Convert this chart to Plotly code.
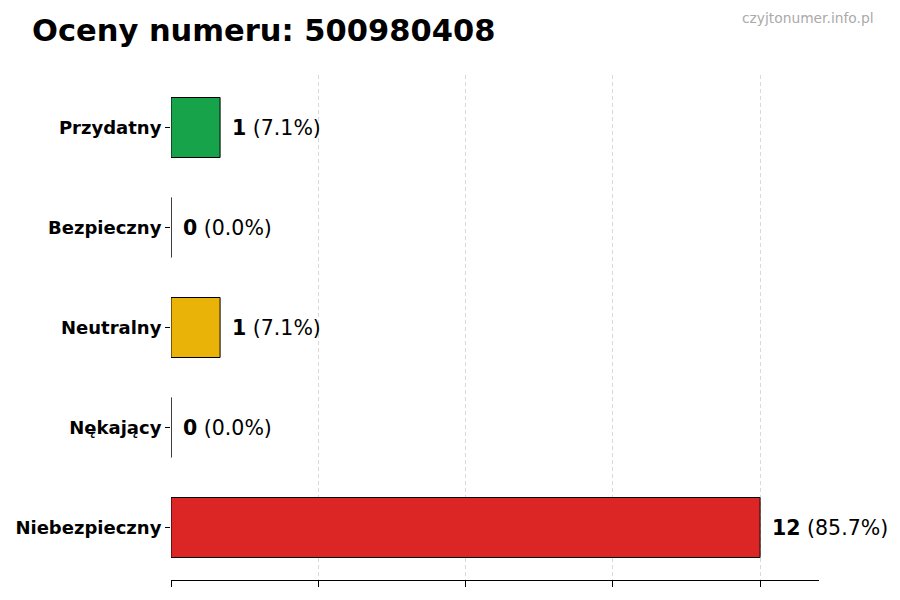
import plotly.graph_objects as go

# dane z wykresu
categories = ['Przydatny', 'Bezpieczny', 'Neutralny', 'Nękający', 'Niebezpieczny']
counts = [1, 0, 1, 0, 12]
colors = ['#16a34a', '#2563eb', '#eab308', '#f97316', '#dc2626']
number = '500980408'

total = sum(counts)
percents = [100.0 * c / total for c in counts]

fig = go.Figure(go.Bar(
    y=categories,
    x=counts,
    orientation='h',
    width=0.6,
    marker=dict(color=colors, line=dict(color='black', width=1)),
    hoverinfo='skip',
))

for cat, c, p in zip(categories, counts, percents):
    fig.add_annotation(
        x=c, y=cat, xref='x', yref='y',
        text='<b>%d</b> (%.1f%%)' % (c, p),
        showarrow=False, xanchor='left', xshift=10,
        font=dict(family='DejaVu Sans', size=20.5, color='black'),
    )

# znak wodny
fig.add_annotation(
    x=1.088, y=1.113, xref='paper', yref='paper',
    xanchor='right', yanchor='middle',
    text='czyjtonumer.info.pl', showarrow=False,
    font=dict(family='DejaVu Sans', size=13.8, color='#aaaaaa'),
)

fig.update_layout(
    width=900, height=600,
    plot_bgcolor='white', paper_bgcolor='white',
    margin=dict(l=163, r=89, t=67, b=28),
    title=dict(text='<b>Oceny numeru: %s</b>' % number, x=24 / 900, xanchor='left',
               y=0.963, yanchor='middle',
               font=dict(family='DejaVu Sans', size=30.5, color='black')),
    showlegend=False,
)

fig.update_xaxes(
    range=[0, 13.2], dtick=3, showticklabels=False,
    showgrid=True, gridcolor='#d9d9d9', griddash='4px,3px', gridwidth=1,
    showline=True, linecolor='black', linewidth=1,
    ticks='outside', ticklen=6, tickcolor='black',
    zeroline=False, automargin=False,
)
fig.update_yaxes(
    autorange=False, range=[4.525, -0.525],
    categoryorder='array', categoryarray=categories,
    tickvals=categories, ticktext=['<b>%s</b>' % c for c in categories],
    showline=False, ticks='outside', ticklen=5, tickcolor='black',
    tickfont=dict(family='DejaVu Sans', size=18, color='black'),
    showgrid=False, zeroline=False, automargin=False,
)

fig.write_html('out.html')
